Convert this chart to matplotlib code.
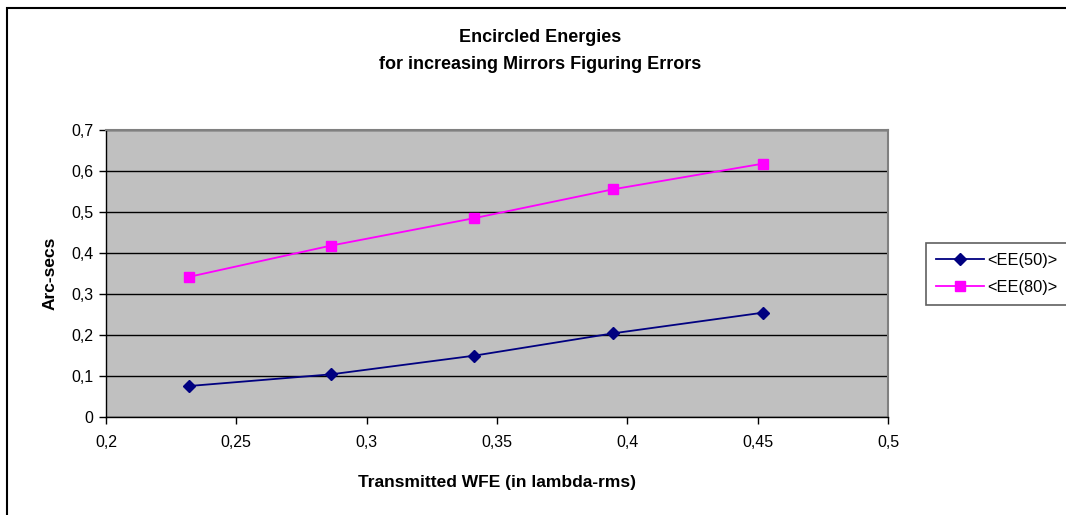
import matplotlib
matplotlib.use('Agg')
import matplotlib.pyplot as plt
from matplotlib.ticker import FuncFormatter, MultipleLocator

plt.rcParams['font.family'] = ['Liberation Sans', 'DejaVu Sans']

# datos
wfe = [0.232, 0.2863, 0.3413, 0.3945, 0.4521]
ee50 = [0.0756, 0.104, 0.1496, 0.204, 0.2545]
ee80 = [0.342, 0.418, 0.485, 0.5553, 0.618]
series_labels = ['<EE(50)>', '<EE(80)>']

fig = plt.figure(figsize=(10.66, 5.15), dpi=100)
ax = fig.add_axes([0.0994, 0.1903, 0.7336, 0.5573])
ax.set_facecolor('#C0C0C0')

ax.plot(wfe, ee50, '-D', color='#000080', lw=1.3, ms=6.5, label=series_labels[0])
ax.plot(wfe, ee80, '-s', color='#FF00FF', lw=1.3, ms=7.5, label=series_labels[1])

ax.set_xlim(0.2, 0.5)
ax.set_ylim(0, 0.7)
ax.xaxis.set_major_locator(MultipleLocator(0.05))
ax.yaxis.set_major_locator(MultipleLocator(0.1))
coma = FuncFormatter(lambda v, p: ('%g' % round(v, 2)).replace('.', ','))
ax.xaxis.set_major_formatter(coma)
ax.yaxis.set_major_formatter(coma)
ax.yaxis.grid(True, color='black', lw=1)
ax.set_axisbelow(True)
ax.tick_params(direction='out', length=5, width=1, labelsize=11.5, color='black')
ax.tick_params(axis='x', pad=8)
ax.tick_params(axis='y', pad=4)

for s in ['top', 'right']:
    ax.spines[s].set_color('#808080')
    ax.spines[s].set_linewidth(1.5)
for s in ['left', 'bottom']:
    ax.spines[s].set_color('black')
    ax.spines[s].set_linewidth(1)

ax.set_xlabel('Transmitted WFE (in lambda-rms)', fontsize=12.5, fontweight='bold', labelpad=18)
ax.set_ylabel('Arc-secs', fontsize=12.5, fontweight='bold', labelpad=10)

fig.text(0.507, 0.927, 'Encircled Energies', ha='center', va='center', fontsize=13, fontweight='bold')
fig.text(0.507, 0.874, 'for increasing Mirrors Figuring Errors', ha='center', va='center', fontsize=13, fontweight='bold')

leg = fig.legend(loc='center left', bbox_to_anchor=(0.869, 0.468), fontsize=11.8,
                 fancybox=False, framealpha=1, edgecolor='#606060', borderpad=0.6,
                 handlelength=2.9, handletextpad=0.2, labelspacing=0.75, borderaxespad=0)
leg.get_frame().set_linewidth(1.2)

# marco exterior (recortado a la derecha y abajo)
fig.patches.append(plt.Rectangle((0.0065, -0.01), 1.0, 0.994, transform=fig.transFigure,
                                 fill=False, edgecolor='black', lw=1.5))

fig.savefig('out.png', dpi=100)
